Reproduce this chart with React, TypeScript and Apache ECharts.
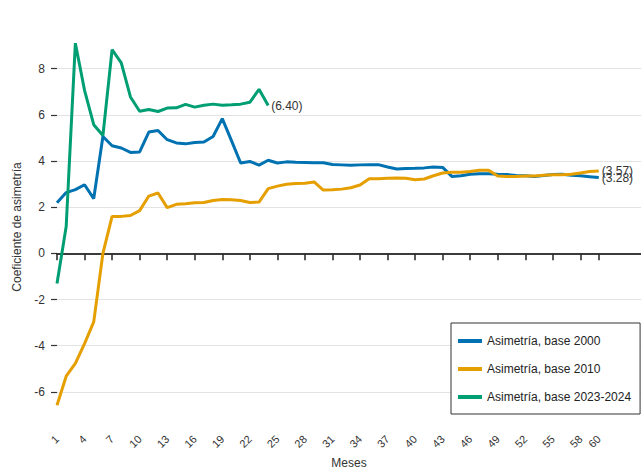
import React, { useEffect, useRef } from "react";
import * as echarts from "echarts";

const months = [
  1, 2, 3, 4, 5, 6, 7, 8, 9, 10, 11, 12, 13, 14, 15, 16, 17, 18, 19, 20,
  21, 22, 23, 24, 25, 26, 27, 28, 29, 30, 31, 32, 33, 34, 35, 36, 37, 38, 39, 40,
  41, 42, 43, 44, 45, 46, 47, 48, 49, 50, 51, 52, 53, 54, 55, 56, 57, 58, 59, 60,
];

const base2000 = [
  2.19, 2.63, 2.76, 2.97, 2.37, 5.06, 4.66, 4.56, 4.37, 4.39,
  5.25, 5.32, 4.92, 4.78, 4.74, 4.8, 4.82, 5.06, 5.83, 4.88,
  3.91, 3.98, 3.82, 4.03, 3.91, 3.96, 3.94, 3.93, 3.92, 3.92,
  3.85, 3.83, 3.81, 3.83, 3.84, 3.84, 3.74, 3.65, 3.67, 3.68,
  3.7, 3.74, 3.72, 3.33, 3.36, 3.42, 3.45, 3.45, 3.42, 3.41,
  3.37, 3.36, 3.33, 3.37, 3.41, 3.42, 3.38, 3.36, 3.32, 3.28,
];

const base2010 = [
  -6.58, -5.32, -4.77, -3.91, -2.97, 0.0, 1.6, 1.6, 1.64, 1.85,
  2.48, 2.61, 1.98, 2.12, 2.15, 2.19, 2.2, 2.29, 2.33, 2.32,
  2.29, 2.2, 2.22, 2.8, 2.91, 2.99, 3.02, 3.03, 3.09, 2.74,
  2.75, 2.78, 2.84, 2.96, 3.23, 3.23, 3.25, 3.26, 3.25, 3.19,
  3.22, 3.36, 3.48, 3.51, 3.51, 3.54, 3.6, 3.6, 3.35, 3.33,
  3.33, 3.35, 3.35, 3.38, 3.4, 3.4, 3.42, 3.48, 3.54, 3.57,
];

const base2023 = [
  -1.31, 1.16, 9.1, 7.06, 5.57, 5.1, 8.82, 8.25, 6.77, 6.15,
  6.23, 6.14, 6.29, 6.3, 6.45, 6.33, 6.41, 6.46, 6.41, 6.43,
  6.46, 6.54, 7.1, 6.4,
];

const xTicks = [1, 4, 7, 10, 13, 16, 19, 22, 25, 28, 31, 34, 37, 40, 43, 46, 49, 52, 55, 58, 60];
const yTicks = [-6, -4, -2, 0, 2, 4, 6, 8];

const seriesNames = [
  "Asimetría, base 2000",
  "Asimetría, base 2010",
  "Asimetría, base 2023-2024",
];
const colors = ["#0072B2", "#E69F00", "#009E73"];

const FONT = "'Liberation Sans', Arial, sans-serif";

export default function App() {
  const ref = useRef<HTMLDivElement>(null);

  useEffect(() => {
    document.body.style.margin = "0";
    if (!ref.current) return;
    const chart = echarts.init(ref.current, undefined, { renderer: "svg" });

    const toPairs = (vals: number[]) => vals.map((v, i) => [months[i], v]);
    const endLabel = {
      show: true,
      distance: 3,
      color: "#333",
      fontSize: 12,
      fontFamily: FONT,
      formatter: (p: any) => "(" + Number(p.value[1]).toFixed(2) + ")",
    };

    const allData = [base2000, base2010, base2023];

    chart.setOption({
      animation: false,
      backgroundColor: "#fff",
      textStyle: { fontFamily: FONT },
      grid: {
        left: 57,
        right: 0,
        top: 30,
        bottom: 45,
        containLabel: false,
        outerBoundsMode: "none",
      },
      legend: {
        orient: "vertical",
        left: 451,
        top: 323,
        padding: [12, 9, 11, 7],
        itemGap: 16,
        itemWidth: 24,
        itemHeight: 4,
        icon: "rect",
        borderColor: "#333",
        borderWidth: 1,
        backgroundColor: "#fff",
        textStyle: { fontSize: 12, color: "#222", fontFamily: FONT },
        data: seriesNames,
      },
      xAxis: {
        type: "value",
        min: 1,
        max: 64.6,
        name: "Meses",
        nameLocation: "middle",
        nameGap: 33,
        nameTextStyle: { fontSize: 12, color: "#333", fontFamily: FONT },
        axisLine: { show: true, lineStyle: { color: "#222", width: 1.5 } },
        axisTick: { show: true, length: 7, customValues: xTicks, lineStyle: { color: "#222", width: 1.5 } },
        axisLabel: {
          customValues: xTicks,
          rotate: 45,
          margin: 13,
          fontSize: 11,
          color: "#333",
          fontFamily: FONT,
        },
        splitLine: { show: false },
      },
      yAxis: {
        type: "value",
        min: -7.39,
        max: 9.67,
        name: "Coeficiente de asimetría",
        nameLocation: "middle",
        nameGap: 28,
        nameTextStyle: { fontSize: 12, color: "#333", fontFamily: FONT },
        axisLine: { show: false },
        axisTick: { show: true, length: 6, customValues: yTicks, lineStyle: { color: "#333", width: 1.2 } },
        axisLabel: { customValues: yTicks, margin: 12, fontSize: 12, color: "#333", fontFamily: FONT },
        splitLine: { show: true, lineStyle: { color: "#e3e3e3", width: 1 } },
      },
      series: allData.map((vals, i) => ({
        name: seriesNames[i],
        type: "line",
        data: toPairs(vals),
        showSymbol: false,
        symbol: "none",
        lineStyle: { color: colors[i], width: 3 },
        itemStyle: { color: colors[i] },
        endLabel,
        z: 3 + i,
        markLine:
          i === 0
            ? {
                silent: true,
                symbol: "none",
                label: { show: false },
                lineStyle: { color: "#333", width: 1.5, type: "solid" },
                data: [{ yAxis: 0 }],
                z: 1,
              }
            : undefined,
      })),
    });

    return () => chart.dispose();
  }, []);

  return <div ref={ref} style={{ width: 641, height: 469 }} />;
}
